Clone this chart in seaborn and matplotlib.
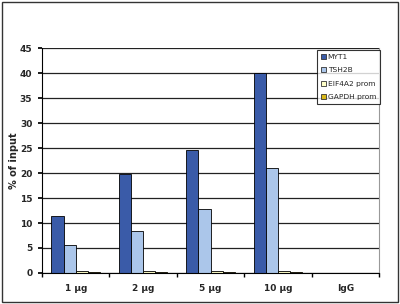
import matplotlib
matplotlib.use("Agg")
import matplotlib.pyplot as plt
import seaborn as sns
import pandas as pd
import numpy as np
from matplotlib.patches import Rectangle

categories = ["1 µg", "2 µg", "5 µg", "10 µg", "IgG"]
series = ["MYT1", "TSH2B", "EIF4A2 prom", "GAPDH prom"]
myt1 = [11.5, 19.8, 24.6, 40.1, 0.0]
tsh2b = [5.6, 8.3, 12.8, 21.0, 0.0]
eif4a2 = [0.3, 0.3, 0.4, 0.4, 0.0]
gapdh = [0.1, 0.1, 0.15, 0.15, 0.0]
colors = ["#3A5BA8", "#ABC6EA", "#FFFFC8", "#D8B818"]

rows = []
for name, vals in zip(series, [myt1, tsh2b, eif4a2, gapdh]):
    for c, v in zip(categories, vals):
        rows.append({"cat": c, "series": name, "value": v})
df = pd.DataFrame(rows)

sns.set_theme(style="white")
plt.rcParams["font.family"] = ["DejaVu Sans"]

fig = plt.figure(figsize=(4.0, 3.04), dpi=100)
ax = fig.add_axes([0.105, 0.102, 0.8425, 0.74])
sns.barplot(data=df, x="cat", y="value", hue="series", order=categories,
            hue_order=series, palette=colors, width=0.72, ax=ax, saturation=1,
            edgecolor="black", linewidth=0.6, legend=False, errorbar=None)

ax.set_ylim(0, 45)
ax.set_xlim(-0.5, 4.5)
ax.set_yticks(np.arange(0, 46, 5))
ax.yaxis.grid(True, color="#222222", linewidth=0.9)
ax.set_axisbelow(True)
ax.tick_params(axis="y", labelsize=6.5, length=3, direction="out", left=True, color="black", pad=4)
for t in ax.get_yticklabels():
    t.set_fontweight("bold")
ax.tick_params(axis="x", labelsize=6.5, length=0, pad=8)
for t in ax.get_xticklabels():
    t.set_fontweight("bold")
ax.set_xticks(np.arange(-0.5, 5.0, 1.0), minor=True)
ax.tick_params(axis="x", which="minor", length=3, direction="out", bottom=True, color="black")
ax.set_xlabel("")
ax.set_ylabel("% of input", fontsize=7, fontweight="bold")
ax.yaxis.set_label_coords(-0.068, 0.5)

ax.spines["top"].set_visible(False)
ax.spines["right"].set_color("#999999")
ax.spines["right"].set_linewidth(0.8)
ax.spines["left"].set_color("black")
ax.spines["left"].set_linewidth(0.8)
ax.spines["bottom"].set_color("black")
ax.spines["bottom"].set_linewidth(0.8)

handles = [Rectangle((0, 0), 1, 1, facecolor=c, edgecolor="#333333", linewidth=0.6) for c in colors]
leg = fig.legend(handles, series, loc="upper right", bbox_to_anchor=(380/400, 1 - 50/304),
                 fontsize=5.4, frameon=True, fancybox=False, handlelength=0.6, handleheight=0.6,
                 handletextpad=0.3, borderpad=0.5, labelspacing=1.0, borderaxespad=0)
leg.get_frame().set_edgecolor("black")
leg.get_frame().set_linewidth(0.8)

fig.patches.append(Rectangle((0.005, 0.008), 0.99, 0.984, transform=fig.transFigure,
                             fill=False, edgecolor="#333333", linewidth=1.0))

fig.savefig("out.png", dpi=100)
